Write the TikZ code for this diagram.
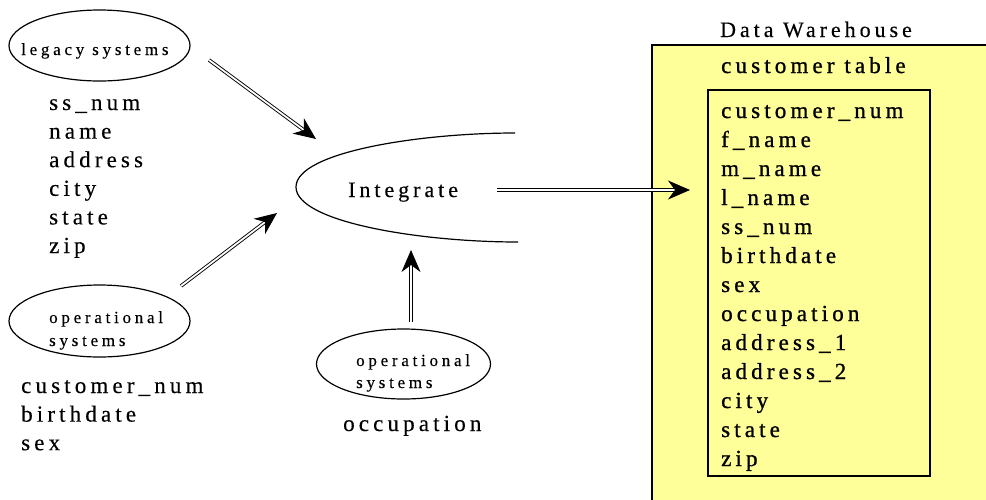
\documentclass[tikz,border=0pt]{standalone}
\usepackage{fontspec}
\setmainfont{Liberation Serif}
\newfontfamily\spaced[LetterSpace=18,FakeBold=0.3]{Liberation Serif}
\newfontfamily\spacedsmall[LetterSpace=22,FakeBold=0.3]{Liberation Serif}
\newfontfamily\spacedbold[LetterSpace=18,FakeBold=1]{Liberation Serif}
\usetikzlibrary{shapes.geometric,arrows.meta}
\definecolor{dwyellow}{RGB}{255,255,153}

\begin{document}
\begin{tikzpicture}[x=1pt,y=-1pt,
  txt/.style={inner sep=0pt, anchor=base west, font=\spaced\fontsize{23}{27}\selectfont},
  dwtxt/.style={inner sep=0pt, anchor=base west, font=\spacedbold\fontsize{23}{27}\selectfont},
  small/.style={inner sep=0pt, anchor=base west, font=\spacedsmall\fontsize{17}{20}\selectfont},
  sysell/.style={draw, ellipse, line width=1.2pt, inner sep=0pt},
  darr/.style={double, double distance=1.8pt, line width=0.9pt,
    -{Stealth[length=22pt, width=19pt, inset=7pt]}},
]
\useasboundingbox (0,0) rectangle (986,499);

% Data warehouse container and customer table
\begin{scope}
  \clip (0,0) rectangle (986,499);
  \draw[fill=dwyellow, line width=1.3pt] (652,45) rectangle (1000,520);
\end{scope}
\node[inner sep=0pt, anchor=base, font=\spaced\fontsize{22}{25}\selectfont] (dwtitle) at (816,37) {Data Warehouse};
\node[dwtxt] (tabtitle) at (721,73) {customer table};
\draw[line width=1.5pt] (708,90) rectangle (930,476);
\foreach \f [count=\i from 0] in {customer\_num,f\_name,m\_name,l\_name,ss\_num,birthdate,sex,occupation,address\_1,address\_2,city,state,zip}
  \node[dwtxt] (col\i) at (721,118+29*\i) {\f};

% Legacy source
\node[sysell, minimum width=181pt, minimum height=71pt] (legacy) at (99.5,45.5) {};
\node[small] (legacylbl) at (21,55) {legacy systems};
\foreach \f [count=\i from 0] in {ss\_num,name,address,city,state,zip}
  \node[txt] (leg\i) at (49,110+28.6*\i) {\f};

% Operational source, left
\node[sysell, minimum width=181pt, minimum height=72pt] (opA) at (99.5,321) {};
\node[small] (opAl1) at (49,323) {operational};
\node[small] (opAl2) at (49,346) {systems};
\foreach \f [count=\i from 0] in {customer\_num,birthdate,sex}
  \node[txt] (opAf\i) at (21,393+28.6*\i) {\f};

% Operational source, bottom
\node[sysell, minimum width=174pt, minimum height=70pt] (opB) at (403.5,364) {};
\node[small] (opBl1) at (356,366) {operational};
\node[small] (opBl2) at (356,388) {systems};
\node[txt] (opBf) at (343,431) {occupation};

% Integration step: open curve
\draw[line width=1.2pt] (515,133) .. controls (420,133) and (296,152) .. (296,187)
  .. controls (296,222) and (420,242) .. (518,242);
\node[inner sep=0pt, anchor=base west, font=\spaced\fontsize{22}{25}\selectfont] (integ) at (348,197) {Integrate};

% Connector end points
\coordinate (legOut) at (209,60);
\coordinate (legIn) at (316,139);
\coordinate (opAOut) at (181,286);
\coordinate (opAIn) at (277,213);
\coordinate (opBOut) at (411,322);
\coordinate (opBIn) at (411,250);
\coordinate (intOut) at (497,190);
\coordinate (dwIn) at (690,190);

\draw[darr] (legOut) -- (legIn);
\draw[darr] (opAOut) -- (opAIn);
\draw[darr] (opBOut) -- (opBIn);
\draw[darr] (intOut) -- (dwIn);
\end{tikzpicture}
\end{document}
